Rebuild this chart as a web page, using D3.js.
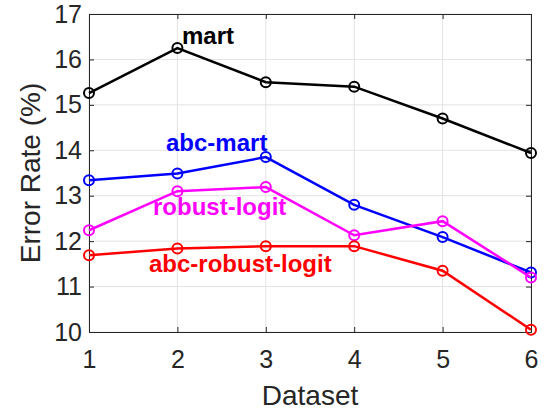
<!DOCTYPE html>
<html>
<head>
<meta charset="utf-8">
<script src="https://cdn.jsdelivr.net/npm/d3@7"></script>
<style>
  body { margin: 0; background: #fff; }
  text { font-family: "Liberation Sans", Arial, Helvetica, sans-serif; }
</style>
</head>
<body>
<div id="chart"></div>
<script>
'use strict';

var datasets = [1, 2, 3, 4, 5, 6];
var yTicks = [10, 11, 12, 13, 14, 15, 16, 17];

var mart = [15.26, 16.25, 15.5, 15.4, 14.7, 13.94];
var abcMart = [13.34, 13.49, 13.85, 12.8, 12.09, 11.31];
var robustLogit = [12.24, 13.1, 13.19, 12.13, 12.44, 11.2];
var abcRobustLogit = [11.69, 11.84, 11.89, 11.89, 11.35, 10.05];

var seriesNames = ["mart", "abc-mart", "robust-logit", "abc-robust-logit"];
var seriesColors = ["#000000", "#0000ff", "#ff00ff", "#ff0000"];

var width = 545, height = 413;
var margin = {left: 89, right: 14, top: 14, bottom: 81};

var svg = d3.select("#chart").append("svg")
    .attr("width", width)
    .attr("height", height);

var x = d3.scaleLinear().domain([1, 6]).range([margin.left, width - margin.right]);
var y = d3.scaleLinear().domain([10, 17]).range([height - margin.bottom, margin.top]);

// grid
svg.append("g").selectAll("line.gx")
    .data(datasets)
    .enter().append("line")
    .attr("x1", function (d) { return x(d); })
    .attr("x2", function (d) { return x(d); })
    .attr("y1", y(10)).attr("y2", y(17))
    .style("stroke", "#e3e3e3").style("stroke-width", 1);

svg.append("g").selectAll("line.gy")
    .data(yTicks)
    .enter().append("line")
    .attr("y1", function (d) { return y(d); })
    .attr("y2", function (d) { return y(d); })
    .attr("x1", x(1)).attr("x2", x(6))
    .style("stroke", "#e3e3e3").style("stroke-width", 1);

// axes
var axisColor = "#262626";
var fmt = d3.format("d");
var xAxis = svg.append("g")
    .attr("transform", "translate(0," + y(10) + ")")
    .call(d3.axisBottom(x).tickValues(datasets).tickFormat(fmt).tickSizeInner(-5).tickSizeOuter(0).tickPadding(18));
var yAxis = svg.append("g")
    .attr("transform", "translate(" + x(1) + ",0)")
    .call(d3.axisLeft(y).tickValues(yTicks).tickFormat(fmt).tickSizeInner(-5).tickSizeOuter(0).tickPadding(7));
var xTop = svg.append("g")
    .attr("transform", "translate(0," + y(17) + ")")
    .call(d3.axisTop(x).tickValues(datasets).tickFormat("").tickSizeInner(-5).tickSizeOuter(0));
var yRight = svg.append("g")
    .attr("transform", "translate(" + x(6) + ",0)")
    .call(d3.axisRight(y).tickValues(yTicks).tickFormat("").tickSizeInner(-5).tickSizeOuter(0));

[xAxis, yAxis, xTop, yRight].forEach(function (a) {
    a.select(".domain").style("stroke", axisColor).style("stroke-width", 1);
    a.selectAll(".tick line").style("stroke", axisColor);
    a.selectAll(".tick text")
        .style("fill", axisColor)
        .style("font-size", "25px")
        .style("font-family", "'Liberation Sans', Arial, sans-serif");
});

svg.append("text")
    .attr("x", (x(1) + x(6)) / 2)
    .attr("y", 405)
    .attr("text-anchor", "middle")
    .style("font-size", "28px")
    .style("fill", axisColor)
    .text("Dataset");

svg.append("text")
    .attr("transform", "translate(40," + (y(10) + y(17)) / 2 + ") rotate(-90)")
    .attr("text-anchor", "middle")
    .style("font-size", "28px")
    .style("fill", axisColor)
    .text("Error Rate (%)");

// series
var allSeries = [mart, abcMart, robustLogit, abcRobustLogit];
var line = d3.line()
    .x(function (d, i) { return x(datasets[i]); })
    .y(function (d) { return y(d); });

allSeries.forEach(function (vals, k) {
    var g = svg.append("g");
    g.append("path")
        .attr("d", line(vals))
        .style("fill", "none")
        .style("stroke", seriesColors[k])
        .style("stroke-width", 2.5);
    g.selectAll("circle")
        .data(vals)
        .enter().append("circle")
        .attr("cx", function (d, i) { return x(datasets[i]); })
        .attr("cy", function (d) { return y(d); })
        .attr("r", 5)
        .style("fill", "none")
        .style("stroke", seriesColors[k])
        .style("stroke-width", 2);
});

// series labels
var labelPos = [
    {x: 182, y: 44},
    {x: 166, y: 151},
    {x: 153, y: 215},
    {x: 149, y: 272}
];
svg.append("g").selectAll("text")
    .data(seriesNames)
    .enter().append("text")
    .attr("x", function (d, i) { return labelPos[i].x; })
    .attr("y", function (d, i) { return labelPos[i].y; })
    .style("font-size", "24px")
    .style("font-weight", "bold")
    .style("fill", function (d, i) { return seriesColors[i]; })
    .text(function (d) { return d; });
</script>
</body>
</html>
